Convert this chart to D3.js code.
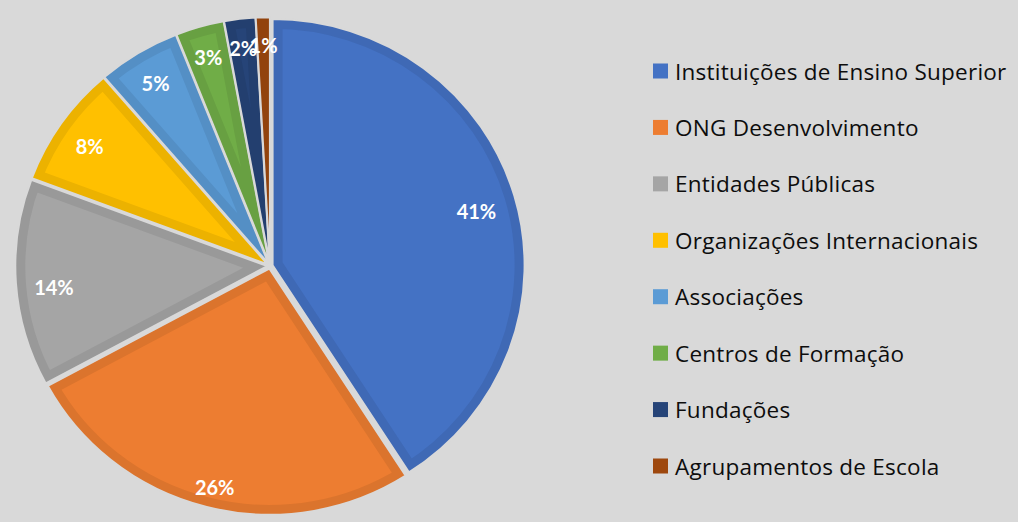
<!DOCTYPE html>
<html>
<head>
<meta charset="utf-8">
<script src="https://cdn.jsdelivr.net/npm/d3@7"></script>
<style>
  body { margin: 0; background: #d9d9d9; }
  svg { display: block; }
</style>
</head>
<body>
<svg id="chart" width="1018" height="522"></svg>
<script>
// chart data
var categories = [
    "Instituições de Ensino Superior",
    "ONG Desenvolvimento",
    "Entidades Públicas",
    "Organizações Internacionais",
    "Associações",
    "Centros de Formação",
    "Fundações",
    "Agrupamentos de Escola"
]
var values = [40.9, 26.2, 13.6, 8.0, 5.3, 3.1, 2.0, 0.9]
var colors = ["#4472C4", "#ED7D31", "#A5A5A5", "#FFC000", "#5B9BD5", "#70AD47", "#264478", "#9E480E"]

var svg = d3.select("#chart")
var bg = "#d9d9d9"

svg.append("rect").attr("width", 1018).attr("height", 522).attr("fill", bg)

var cx = 270, cy = 266, R = 252, yScale = 0.977
var explode = 2.7

var pie = d3.pie().sort(null).value(function(d){ return d })
var arcs = pie(values)
var arc = d3.arc().innerRadius(0).outerRadius(R)

var g = svg.append("g")
    .attr("transform", "translate(" + cx + "," + cy + ") scale(1," + yScale + ")")

var defs = svg.append("defs")

arcs.forEach(function(a, i){
    var mid = (a.startAngle + a.endAngle) / 2
    var dx = Math.sin(mid) * explode, dy = -Math.cos(mid) * explode
    var sg = g.append("g").attr("transform", "translate(" + dx + "," + dy + ")")

    defs.append("clipPath").attr("id", "clip" + i)
        .append("path").attr("d", arc(a))

    sg.append("path")
        .attr("d", arc(a))
        .attr("fill", colors[i])
    // darker inner band
    sg.append("path")
        .attr("d", arc(a))
        .attr("fill", "none")
        .attr("stroke", d3.color(colors[i]).darker(0.22))
        .attr("stroke-width", 20)
        .attr("stroke-linejoin", "miter")
        .attr("clip-path", "url(#clip" + i + ")")
    // thin gap line
    sg.append("path")
        .attr("d", arc(a))
        .attr("fill", "none")
        .attr("stroke", bg)
        .attr("stroke-width", 2)
})

// data labels, inside end (label anchor sits a little below the pie centre)
var labelCy = cy + 6
var labelG = svg.append("g")
arcs.forEach(function(a, i){
    var mid = (a.startAngle + a.endAngle) / 2
    var ux = Math.sin(mid), uy = -Math.cos(mid)
    var t = labelG.append("text")
        .text(Math.round(values[i]) + "%")
        .attr("font-family", "Lato, 'Open Sans', sans-serif")
        .attr("font-weight", "bold")
        .attr("font-size", 20)
        .attr("fill", "white")
        .attr("text-anchor", "middle")
        .attr("dominant-baseline", "central")
    var hw = t.node().getComputedTextLength() / 2, hh = 10
    var dist = 237 - (hw * Math.abs(ux) + hh * Math.abs(uy))
    t.attr("x", cx + ux * dist).attr("y", labelCy + uy * dist)
})

// legend
var ly = d3.scalePoint().domain(categories).range([71, 466])
var legend = svg.append("g")
categories.forEach(function(c, i){
    legend.append("rect")
        .attr("x", 653).attr("y", ly(c) - 7.5)
        .attr("width", 15).attr("height", 15)
        .attr("fill", colors[i])
    legend.append("text")
        .attr("x", 675).attr("y", ly(c))
        .attr("dominant-baseline", "central")
        .attr("font-family", "'Open Sans', sans-serif")
        .attr("font-size", 22.5)
        .attr("letter-spacing", 0.25)
        .attr("fill", "#0d0d0d")
        .text(c)
})
</script>
</body>
</html>
